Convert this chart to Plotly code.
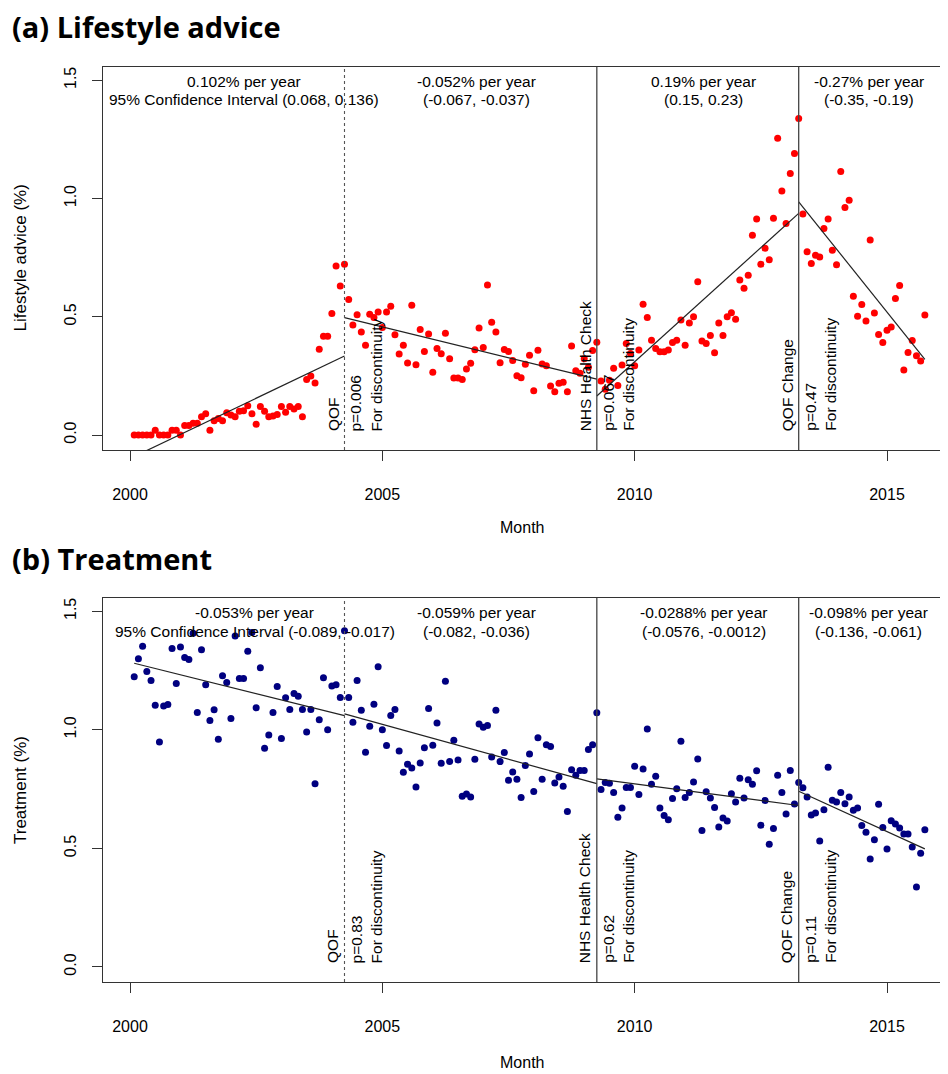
import plotly.graph_objects as go

# ---------------- data ----------------
month_index = list(range(1, 190))          # Feb 2000 .. Oct 2015, monthly
month_year = [2000 + m / 12 for m in month_index]

lifestyle = [
    0, 0, 0, 0, 0, 0.02, 0, 0, 0, 0.02,
    0.02, 0, 0.04, 0.04, 0.05, 0.05, 0.077, 0.09, 0.02, 0.06,
    0.07, 0.06, 0.094, 0.085, 0.077, 0.10, 0.103, 0.124, 0.09, 0.046,
    0.12, 0.10, 0.077, 0.08, 0.087, 0.12, 0.096, 0.12, 0.11, 0.12,
    0.077, 0.235, 0.25, 0.22, 0.363, 0.418, 0.418, 0.514, 0.715, 0.63,
    0.722, 0.573, 0.465, 0.508, 0.435, 0.379, 0.511, 0.497, 0.52, 0.455,
    0.52, 0.544, 0.424, 0.342, 0.379, 0.304, 0.549, 0.297, 0.446, 0.353,
    0.427, 0.265, 0.366, 0.344, 0.43, 0.322, 0.241, 0.241, 0.235, 0.279,
    0.303, 0.36, 0.452, 0.37, 0.634, 0.477, 0.436, 0.305, 0.362, 0.353,
    0.315, 0.251, 0.242, 0.299, 0.337, 0.187, 0.358, 0.30, 0.293, 0.207,
    0.183, 0.219, 0.223, 0.183, 0.376, 0.272, 0.261, 0.322, 0.287, 0.357,
    0.392, 0.228, 0.193, 0.232, 0.282, 0.209, 0.296, 0.387, 0.345, 0.293,
    0.359, 0.553, 0.497, 0.401, 0.366, 0.352, 0.352, 0.359, 0.391, 0.401,
    0.486, 0.379, 0.474, 0.50, 0.648, 0.398, 0.387, 0.421, 0.348, 0.474,
    0.421, 0.50, 0.517, 0.489, 0.655, 0.62, 0.675, 0.845, 0.913, 0.722,
    0.79, 0.741, 0.916, 1.255, 1.032, 0.894, 1.106, 1.19, 1.338, 0.934,
    0.775, 0.725, 0.76, 0.753, 0.873, 0.913, 0.781, 0.72, 1.114, 0.962,
    0.993, 0.587, 0.502, 0.552, 0.482, 0.824, 0.516, 0.425, 0.391, 0.443,
    0.457, 0.577, 0.632, 0.275, 0.349, 0.40, 0.335, 0.313, 0.507,
]

treatment = [
    1.224, 1.30, 1.352, 1.246, 1.208, 1.104, 0.949, 1.101, 1.107, 1.343,
    1.195, 1.349, 1.305, 1.297, 1.407, 1.073, 1.338, 1.19, 1.039, 1.085,
    0.96, 1.228, 1.20, 1.048, 1.396, 1.216, 1.216, 1.331, 1.41, 1.093,
    1.262, 0.922, 0.978, 1.073, 1.183, 0.964, 1.135, 1.086, 1.153, 1.142,
    1.086, 0.991, 1.086, 0.773, 1.043, 1.22, 1.0, 1.185, 1.19, 1.136,
    1.418, 1.136, 1.032, 1.208, 1.083, 0.905, 1.015, 1.108, 1.266, 1.0,
    0.934, 1.06, 1.086, 0.911, 0.821, 0.855, 0.839, 0.759, 0.86, 0.925,
    1.09, 0.935, 1.029, 0.859, 1.205, 0.867, 0.956, 0.873, 0.72, 0.729,
    0.717, 0.876, 1.025, 1.011, 1.018, 0.885, 1.083, 0.866, 0.904, 0.787,
    0.822, 0.792, 0.715, 0.85, 0.898, 0.74, 0.967, 0.792, 0.937, 0.93,
    0.776, 0.801, 0.762, 0.656, 0.832, 0.808, 0.829, 0.829, 0.917, 0.937,
    1.072, 0.748, 0.778, 0.775, 0.736, 0.631, 0.67, 0.757, 0.757, 0.846,
    0.727, 0.835, 1.004, 0.771, 0.804, 0.67, 0.639, 0.621, 0.71, 0.752,
    0.952, 0.715, 0.736, 0.78, 0.877, 0.575, 0.739, 0.713, 0.673, 0.59,
    0.628, 0.616, 0.731, 0.696, 0.796, 0.713, 0.79, 0.771, 0.828, 0.598,
    0.702, 0.517, 0.584, 0.808, 0.736, 0.645, 0.829, 0.687, 0.778, 0.756,
    0.717, 0.641, 0.649, 0.531, 0.663, 0.842, 0.703, 0.696, 0.736, 0.688,
    0.717, 0.661, 0.67, 0.597, 0.568, 0.455, 0.536, 0.686, 0.588, 0.497,
    0.617, 0.603, 0.586, 0.561, 0.561, 0.506, 0.337, 0.48, 0.579,
]

# segmented-regression fitted lines (start / end of each segment)
seg_start_year = [2000.083, 2004.25, 2009.25, 2013.25]
seg_end_year = [2004.25, 2009.25, 2013.25, 2015.75]
fit_lifestyle_start = [-0.091, 0.496, 0.165, 0.986]
fit_lifestyle_end = [0.334, 0.236, 0.937, 0.32]
fit_treatment_start = [1.281, 1.067, 0.793, 0.741]
fit_treatment_end = [1.06, 0.773, 0.681, 0.498]

# interventions
event_names = ["QOF", "NHS Health Check", "QOF Change"]
event_years = [2004.25, 2009.25, 2013.25]
event_dash = ["dot", "solid", "solid"]
p_lifestyle = ["p=0.006", "p=0.067", "p=0.47"]
p_treatment = ["p=0.83", "p=0.62", "p=0.11"]

slope_lifestyle = ["0.102% per year", "-0.052% per year", "0.19% per year", "-0.27% per year"]
ci_lifestyle = ["95% Confidence Interval (0.068, 0.136)", "(-0.067, -0.037)",
                "(0.15, 0.23)", "(-0.35, -0.19)"]
slope_treatment = ["-0.053% per year", "-0.059% per year", "-0.0288% per year", "-0.098% per year"]
ci_treatment = ["95% Confidence Interval (-0.089, -0.017)", "(-0.082, -0.036)",
                "(-0.0576, -0.0012)", "(-0.136, -0.061)"]

x_ticks = [2000, 2005, 2010, 2015]
y_ticks = [0, 0.5, 1.0, 1.5]
y_ticktext = ["0.0", "0.5", "1.0", "1.5"]

# ---------------- layout constants ----------------
OFF = 8                      # page body margin
W, H = 948 - 2 * OFF, 1074 - OFF
FONT = "Arial, Liberation Sans, sans-serif"
TXT = 15.5
label_x_a = [2002.26, 2006.86, 2011.37, 2014.65]
label_x_b = [2002.47, 2006.86, 2011.37, 2014.64]


def fx(px):
    return (px - OFF) / W


def fy(py):
    return 1 - (py - OFF) / H


panels = [
    dict(x="x", y="y", top=67, bottom=450, vals=lifestyle, color="#ff0000",
         fs=fit_lifestyle_start, fe=fit_lifestyle_end, slope=slope_lifestyle,
         ci=ci_lifestyle, p=p_lifestyle, lx=label_x_a, mgap=77,
         title="(a) Lifestyle advice", ytitle="Lifestyle advice (%)"),
    dict(x="x2", y="y2", top=598, bottom=982, vals=treatment, color="#000080",
         fs=fit_treatment_start, fe=fit_treatment_end, slope=slope_treatment,
         ci=ci_treatment, p=p_treatment, lx=label_x_b, mgap=80,
         title="(b) Treatment", ytitle="Treatment (%)"),
]

fig = go.Figure()
annotations = []
shapes = []

for i, pn in enumerate(panels):
    fig.add_trace(go.Scatter(x=month_year, y=pn["vals"], mode="markers",
                             marker=dict(color=pn["color"], size=7, line=dict(width=0)),
                             xaxis=pn["x"], yaxis=pn["y"], showlegend=False,
                             hoverinfo="skip"))
    for s in range(4):
        fig.add_trace(go.Scatter(x=[seg_start_year[s], seg_end_year[s]],
                                 y=[pn["fs"][s], pn["fe"][s]], mode="lines",
                                 line=dict(color="#222222", width=1.2),
                                 xaxis=pn["x"], yaxis=pn["y"], showlegend=False,
                                 hoverinfo="skip"))
    for e, yr in enumerate(event_years):
        shapes.append(dict(type="line", xref=pn["x"], yref=pn["y"] + " domain",
                           x0=yr, x1=yr, y0=0, y1=1,
                           line=dict(color="#444444" if e else "#555555",
                                     width=1.3 if e else 1.1, dash=event_dash[e])))
        annotations.append(dict(xref=pn["x"], yref=pn["y"], x=yr, y=0,
                                text=event_names[e], showarrow=False, textangle=-90,
                                xanchor="right", yanchor="bottom", xshift=-1, yshift=2,
                                font=dict(family=FONT, size=TXT, color="black")))
        annotations.append(dict(xref=pn["x"], yref=pn["y"], x=yr, y=0,
                                text=pn["p"][e] + "<br>For discontinuity",
                                showarrow=False, textangle=-90, align="left",
                                xanchor="left", yanchor="bottom", xshift=1, yshift=2,
                                font=dict(family=FONT, size=TXT, color="black")))
    for s in range(4):
        annotations.append(dict(xref=pn["x"], yref="paper", x=pn["lx"][s],
                                y=fy(pn["top"] + 14), text=pn["slope"][s],
                                showarrow=False, xanchor="center", yanchor="middle",
                                font=dict(family=FONT, size=TXT, color="black")))
        annotations.append(dict(xref=pn["x"], yref="paper", x=pn["lx"][s],
                                y=fy(pn["top"] + 33), text=pn["ci"][s],
                                showarrow=False, xanchor="center", yanchor="middle",
                                font=dict(family=FONT, size=TXT, color="black")))
    # panel title
    annotations.append(dict(xref="paper", yref="paper", x=fx(10),
                            y=fy(pn["top"] - 40), text="<b>" + pn["title"] + "</b>",
                            showarrow=False, xanchor="left", yanchor="middle",
                            font=dict(family="Open Sans, sans-serif", size=29, color="black")))
    # y title
    annotations.append(dict(xref="paper", yref="paper", x=fx(20),
                            y=fy((pn["top"] + pn["bottom"]) / 2), text=pn["ytitle"],
                            showarrow=False, textangle=-90, xanchor="center",
                            yanchor="middle",
                            font=dict(family=FONT, size=17, color="black")))
    # x title
    annotations.append(dict(xref="paper", yref="paper", x=fx(522),
                            y=fy(pn["bottom"] + pn["mgap"]), text="Month",
                            showarrow=False, xanchor="center", yanchor="middle",
                            font=dict(family=FONT, size=16, color="black")))

axis_common = dict(showgrid=False, zeroline=False, showline=True, linecolor="#333333",
                   linewidth=1, ticks="outside", ticklen=10, tickwidth=1,
                   tickcolor="#333333", tickfont=dict(family=FONT, size=16, color="black"))

# x range: page px 103 -> 1999.465 ; page px 940 (figure right edge) -> 2016.05
xr = [1999.465, 2016.05]
yr_ = [-0.0634, 1.556]
fig.update_layout(
    width=W, height=H, margin=dict(l=0, r=0, t=0, b=0),
    paper_bgcolor="white", plot_bgcolor="white", showlegend=False,
    xaxis=dict(domain=[fx(103), 1], anchor="y", range=xr, tickvals=x_ticks,
               mirror=True, ticklabelstandoff=20, **axis_common),
    yaxis=dict(domain=[fy(450), fy(67)], anchor="x", range=yr_, tickvals=y_ticks,
               ticktext=y_ticktext, tickangle=-90, ticklabelstandoff=10, **axis_common),
    xaxis2=dict(domain=[fx(103), 1], anchor="y2", range=xr, tickvals=x_ticks,
                mirror=True, ticklabelstandoff=20, **axis_common),
    yaxis2=dict(domain=[fy(982), fy(598)], anchor="x2", range=yr_, tickvals=y_ticks,
                ticktext=y_ticktext, tickangle=-90, ticklabelstandoff=10, **axis_common),
    annotations=annotations, shapes=shapes,
)

fig.write_html("out.html")
